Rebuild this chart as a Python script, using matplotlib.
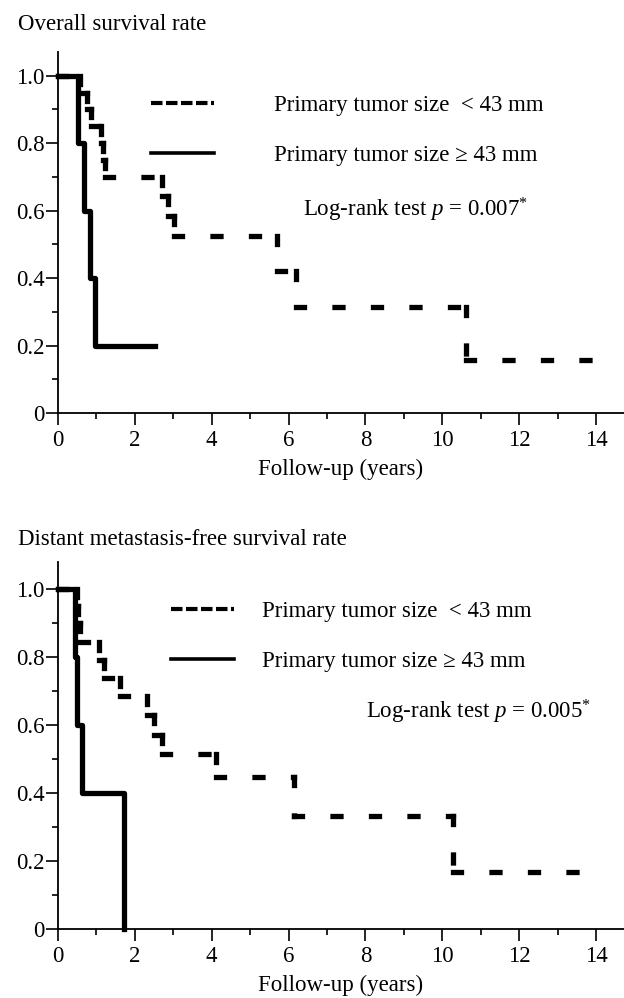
import matplotlib
matplotlib.use("Agg")
import matplotlib.pyplot as plt
from matplotlib.lines import Line2D
from matplotlib.ticker import MultipleLocator, FuncFormatter

plt.rcParams['font.family'] = ['Liberation Serif', 'DejaVu Serif']
plt.rcParams['mathtext.fontset'] = 'custom'
plt.rcParams['mathtext.rm'] = 'Liberation Serif'
plt.rcParams['mathtext.it'] = 'Liberation Serif:italic'
plt.rcParams['lines.scale_dashes'] = False

# overall survival, tumor < 43 mm (dashed)
os_small_t = [0, 0.58, 0.76, 0.85, 1.13, 1.17, 1.22, 2.71, 2.87, 3.02, 5.70, 6.20, 10.62, 13.85]
os_small_s = [1.0, 0.95, 0.90, 0.85, 0.80, 0.75, 0.70, 0.642, 0.583, 0.525, 0.42, 0.315, 0.158, 0.158]
# overall survival, tumor >= 43 mm (solid)
os_large_t = [0, 0.52, 0.68, 0.82, 0.95, 2.53]
os_large_s = [1.0, 0.8, 0.6, 0.4, 0.2, 0.2]

# distant metastasis-free survival
dm_small_t = [0, 0.50, 0.53, 0.56, 1.06, 1.19, 1.62, 2.32, 2.50, 2.70, 4.12, 6.13, 10.27, 13.53]
dm_small_s = [1.0, 0.95, 0.90, 0.845, 0.792, 0.739, 0.686, 0.629, 0.572, 0.515, 0.446, 0.334, 0.167, 0.167]
dm_large_t = [0, 0.45, 0.50, 0.62, 1.73]
dm_large_s = [1.0, 0.8, 0.6, 0.4, 0.0]

label_small = "Primary tumor size  < 43 mm"
label_large = "Primary tumor size \u2265 43 mm"

FS = 16.5
W, H = 624, 998
fig = plt.figure(figsize=(W / 100, H / 100), dpi=100)

px = 72 / 100  # points per pixel
curve_dash = (8 * px, 30.5 * px)
legend_dash = (11.5 * px, 3.5 * px)


def make_axes(top, bottom, ymax):
    ax = fig.add_axes([58 / W, 1 - bottom / H, 1 - 58 / W, (bottom - top) / H])
    ax.set_xlim(0, 14.73)
    ax.set_ylim(0, ymax)
    for s in ['top', 'right']:
        ax.spines[s].set_visible(False)
    for s in ['left', 'bottom']:
        ax.spines[s].set_linewidth(1.3)
    ax.xaxis.set_major_locator(MultipleLocator(2))
    ax.xaxis.set_minor_locator(MultipleLocator(1))
    ax.yaxis.set_major_locator(MultipleLocator(0.2))
    ax.yaxis.set_minor_locator(MultipleLocator(0.1))
    ax.yaxis.set_major_formatter(FuncFormatter(lambda v, p: "0" if abs(v) < 1e-9 else f"{v:.1f}"))
    ax.tick_params(which='major', length=12 * px, width=1.2, labelsize=FS, direction='out')
    ax.tick_params(axis='y', which='major', pad=1)
    ax.tick_params(which='minor', length=6 * px, width=1.2, direction='out')
    ax.set_xlabel("Follow-up (years)", fontsize=FS, labelpad=6)
    return ax


def dashed_steps(ax, ts, ss):
    # each step piece starts its own dash pattern, like the original software
    for i in range(len(ts) - 1):
        ax.plot([ts[i], ts[i + 1]], [ss[i], ss[i]], color='black', lw=3.8,
                dashes=curve_dash, dash_capstyle='projecting', clip_on=False)
        if ss[i + 1] != ss[i]:
            ax.plot([ts[i + 1], ts[i + 1]], [ss[i], ss[i + 1]], color='black', lw=3.8,
                    dashes=curve_dash, dash_capstyle='projecting', clip_on=False)


def draw(ax, ts, ss, tl, sl, p_text, leg_anchor, textpad, p_pos):
    dashed_steps(ax, ts, ss)
    ax.step(tl, sl, where='post', color='black', lw=3.8, clip_on=False)
    handles = [Line2D([], [], color='black', lw=3.0, dashes=legend_dash),
               Line2D([], [], color='black', lw=2.6)]
    ax.legend(handles, [label_small, label_large], loc='upper left',
              bbox_to_anchor=leg_anchor, bbox_transform=fig.transFigure,
              frameon=False, fontsize=FS, handlelength=2.75,
              handletextpad=textpad, labelspacing=1.25, borderpad=0, borderaxespad=0)
    fig.text(p_pos[0] / W, 1 - p_pos[1] / H, p_text, fontsize=FS, ha='right', va='baseline')


ax1 = make_axes(52, 413, 1.0703)
draw(ax1, os_small_t, os_small_s, os_large_t, os_large_s,
     r"Log-rank test $p$ = 0.007$^{*}$", (151 / W, 1 - 95 / H), 2.6, (528, 217))
fig.text(18 / W, 1 - 30 / H, "Overall survival rate", fontsize=FS, va='baseline')

ax2 = make_axes(562, 929, 1.080)
draw(ax2, dm_small_t, dm_small_s, dm_large_t, dm_large_s,
     r"Log-rank test $p$ = 0.005$^{*}$", (171 / W, 1 - 601 / H), 1.2, (591, 718))
fig.text(18 / W, 1 - 545 / H, "Distant metastasis-free survival rate", fontsize=FS, va='baseline')

fig.savefig("out.png", dpi=100)
